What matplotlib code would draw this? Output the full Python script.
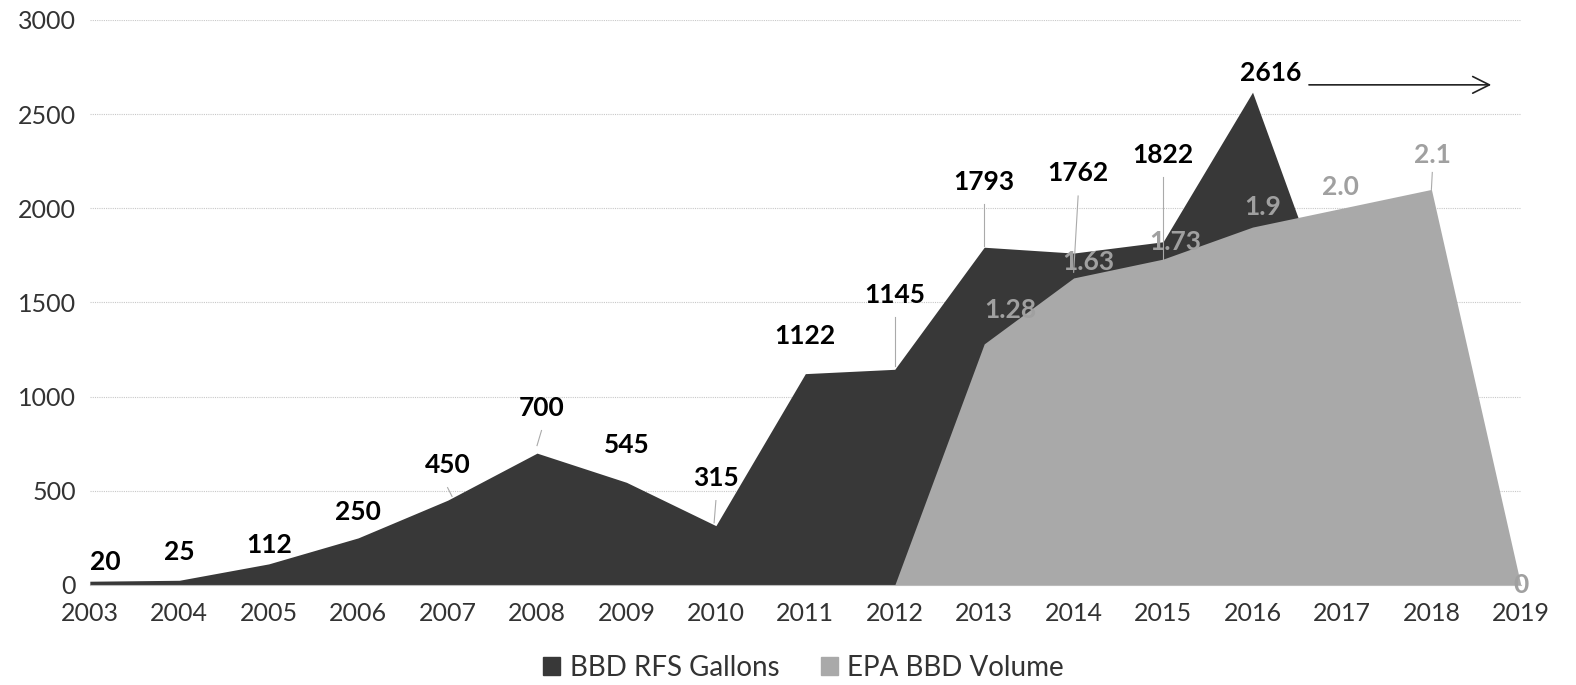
import matplotlib.pyplot as plt
import matplotlib.patches as mpatches

plt.rcParams['font.family'] = ['Lato', 'DejaVu Sans']

years = list(range(2003, 2020))

# BBD RFS gallons (dark area) - no 2017 point, drops to 0 at 2018
rfsYears = [2003, 2004, 2005, 2006, 2007, 2008, 2009, 2010, 2011, 2012,
            2013, 2014, 2015, 2016, 2018, 2019]
rfsValues = [20, 25, 112, 250, 450, 700, 545, 315, 1122, 1145,
             1793, 1762, 1822, 2616, 0, 0]
rfsLabels = ["20", "25", "112", "250", "450", "700", "545", "315", "1122", "1145",
             "1793", "1762", "1822", "2616"]

# EPA BBD volume (light area), billion gallons shown as labels
epaYears = [2012, 2013, 2014, 2015, 2016, 2017, 2018, 2019]
epaValues = [0, 1280, 1630, 1730, 1900, 2000, 2100, 0]
epaLabels = ["1.28", "1.63", "1.73", "1.9", "2.0", "2.1", "0"]

darkColor = "#383838"
lightColor = "#a9a9a9"

fig = plt.figure(figsize=(15.76, 6.85), dpi=100)
ax = fig.add_axes([0.057, 0.146, 0.908, 0.825])

ax.fill_between(rfsYears, rfsValues, 0, color=darkColor, lw=0, zorder=2)
ax.fill_between(epaYears, epaValues, 0, color=lightColor, lw=0, zorder=3)

ax.set_xlim(2003, 2019)
ax.set_ylim(0, 3000)
ax.set_xticks(years)
ax.set_xticklabels([str(y) for y in years])
ax.set_yticks(range(0, 3001, 500))
ax.tick_params(axis='both', labelsize=18, colors="#333333", length=0, pad=10)
ax.tick_params(axis='x', pad=12)
ax.grid(axis='y', color="#c8c8c8", linestyle=(0, (1, 1)), linewidth=0.8, zorder=0)
for s in ["top", "right", "left"]:
    ax.spines[s].set_visible(False)
ax.spines["bottom"].set_color("#bbbbbb")
ax.spines["bottom"].set_zorder(5)

# label offsets (x, y) for the dark series
darkPos = [(2003.17, 122), (2004.0, 175), (2005.0, 212), (2006.0, 388), (2007.0, 637),
           (2008.05, 940), (2009.0, 743), (2010.0, 568), (2011.0, 1322), (2012.0, 1540),
           (2013.0, 2140), (2014.05, 2185), (2015.0, 2285), (2016.2, 2719)]
leader = {4: (2007.05, 470), 5: (2008.0, 740), 7: (2009.98, 330),
          9: (2012.0, 1165), 10: (2013.0, 1800), 11: (2014.0, 1660), 12: (2015.0, 1720)}
for i, (lbl, (px, py)) in enumerate(zip(rfsLabels, darkPos)):
    ax.text(px, py, lbl, ha='center', va='center', fontsize=19, fontweight='bold',
            color='black', zorder=6)
    if i in leader:
        lx, ly = leader[i]
        ax.plot([px, lx], [py - 120, ly], color="#aaaaaa", lw=0.8, zorder=5)

lightPos = [(2013.29, 1460), (2014.16, 1715), (2015.14, 1822), (2016.11, 2007),
            (2016.98, 2114), (2018.01, 2284), (2019.0, 0)]
for i, (lbl, (px, py)) in enumerate(zip(epaLabels, lightPos)):
    ax.text(px, py, lbl, ha='center', va='center', fontsize=19, fontweight='bold',
            color="#a0a0a0", zorder=6)
ax.plot([2018.01, 2018.0], [2190, 2100], color="#aaaaaa", lw=0.8, zorder=5)

ax.annotate("", xy=(2018.7, 2655), xytext=(2016.6, 2655),
            arrowprops=dict(arrowstyle='->', color='#222222', lw=1.2,
                            mutation_scale=30), zorder=6)

handles = [mpatches.Patch(color=darkColor, label="BBD RFS Gallons"),
           mpatches.Patch(color=lightColor, label="EPA BBD Volume")]
fig.legend(handles=handles, loc='lower center', ncol=2, frameon=False,
           fontsize=20, bbox_to_anchor=(0.51, -0.03), handlelength=0.6,
           handleheight=0.6, handletextpad=0.35, columnspacing=1.5,
           labelcolor="#333333")

plt.savefig("out.png", dpi=100)
